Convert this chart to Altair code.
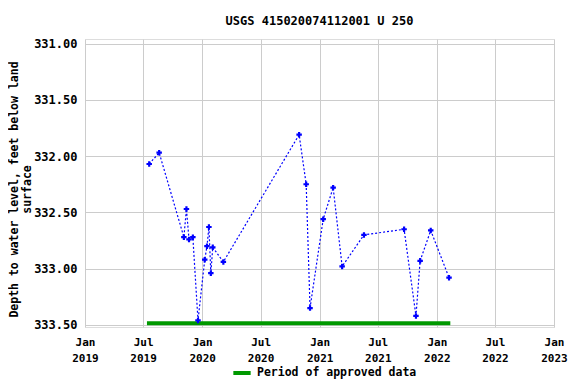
import altair as alt
import pandas as pd

dates = ["2019-07-20", "2019-08-20", "2019-11-05", "2019-11-13", "2019-11-21",
         "2019-12-03", "2019-12-19", "2020-01-09", "2020-01-16", "2020-01-22",
         "2020-01-28", "2020-02-03", "2020-03-07", "2020-10-29", "2020-11-20",
         "2020-12-02", "2021-01-12", "2021-02-12", "2021-03-12", "2021-05-19",
         "2021-09-21", "2021-10-28", "2021-11-10", "2021-12-13", "2022-02-08"]
depths = [332.07, 331.97, 332.72, 332.47, 332.74,
          332.72, 333.46, 332.92, 332.80, 332.63,
          333.04, 332.81, 332.94, 331.81, 332.25,
          333.35, 332.56, 332.28, 332.98, 332.70,
          332.65, 333.42, 332.93, 332.66, 333.08]

approved_start = ["2019-07-13"]
approved_end = ["2022-02-12"]
approved_level = [333.484]
approved_label = ["Period of approved data"]

y_ticks = [331.0, 331.5, 332.0, 332.5, 333.0, 333.5]
x_tick_years = [2019, 2019, 2020, 2020, 2021, 2021, 2022, 2022, 2023]
x_tick_months = [1, 7, 1, 7, 1, 7, 1, 7, 1]

FONT = "DejaVu Sans Mono"

df = pd.DataFrame({"date": dates, "depth": depths})
appr = pd.DataFrame({"start": approved_start, "end": approved_end,
                     "level": approved_level, "label": approved_label})

x_scale = alt.Scale(type="utc", domain=[alt.DateTime(year=2019, month=1, date=1, utc=True),
                                        alt.DateTime(year=2023, month=1, date=1, utc=True)])
y_scale = alt.Scale(domain=[333.518, 330.96], nice=False, zero=False)

x_axis = alt.Axis(
    title=None,
    values=[alt.DateTime(year=y, month=m, date=1, utc=True) for y, m in zip(x_tick_years, x_tick_months)],
    labelExpr="[utcFormat(datum.value, '%b'), utcFormat(datum.value, '%Y')]",
    labelFont=FONT, labelFontSize=11, labelFontWeight="bold", labelColor="black",
    labelLineHeight=16, labelPadding=9, ticks=False, domain=False,
    gridColor="#cccccc", labelFlush=False,
)
y_axis = alt.Axis(
    title=["Depth to water level, feet below land", "surface"],
    titleFont=FONT, titleFontSize=11.5, titleFontWeight="bold", titleColor="black",
    titleLineHeight=13, titlePadding=1, titleY=150,
    values=y_ticks, format=".2f",
    labelFont=FONT, labelFontSize=12, labelFontWeight="bold", labelColor="black",
    labelPadding=8, ticks=False, domain=False, gridColor="#cccccc",
)

line = alt.Chart(df).mark_line(color="#0000ff", strokeDash=[2, 2], strokeWidth=1.2).encode(
    x=alt.X("date:T", scale=x_scale, axis=x_axis),
    y=alt.Y("depth:Q", scale=y_scale, axis=y_axis),
)
pts = alt.Chart(df).mark_point(shape="cross", filled=True, size=30, color="#0000ff", opacity=1).encode(
    x=alt.X("date:T", scale=x_scale),
    y=alt.Y("depth:Q", scale=y_scale),
)
bar = alt.Chart(appr).mark_rule(strokeWidth=4).encode(
    x=alt.X("start:T", scale=x_scale),
    x2="end:T",
    y=alt.Y("level:Q", scale=y_scale),
    color=alt.Color("label:N", scale=alt.Scale(range=["#009900"]),
                    legend=alt.Legend(title=None, orient="none", legendX=146, legendY=323,
                                      symbolType="stroke", symbolStrokeWidth=4, symbolSize=300,
                                      labelFont=FONT, labelFontSize=11.5, labelFontWeight="bold",
                                      labelColor="black", labelLimit=400)),
)

chart = alt.layer(bar, line, pts).properties(
    width=469, height=288,
    title=alt.TitleParams("USGS 415020074112001 U 250", font=FONT, fontSize=12,
                          fontWeight="bold", color="black", offset=10),
    autosize=alt.AutoSizeParams(type="none"),
    padding={"left": 77, "top": 31, "right": 14, "bottom": 57},
).configure_view(stroke="black", strokeWidth=1).configure(background="white")

chart.save("out.html", embed_options={"renderer": "svg", "actions": False})
